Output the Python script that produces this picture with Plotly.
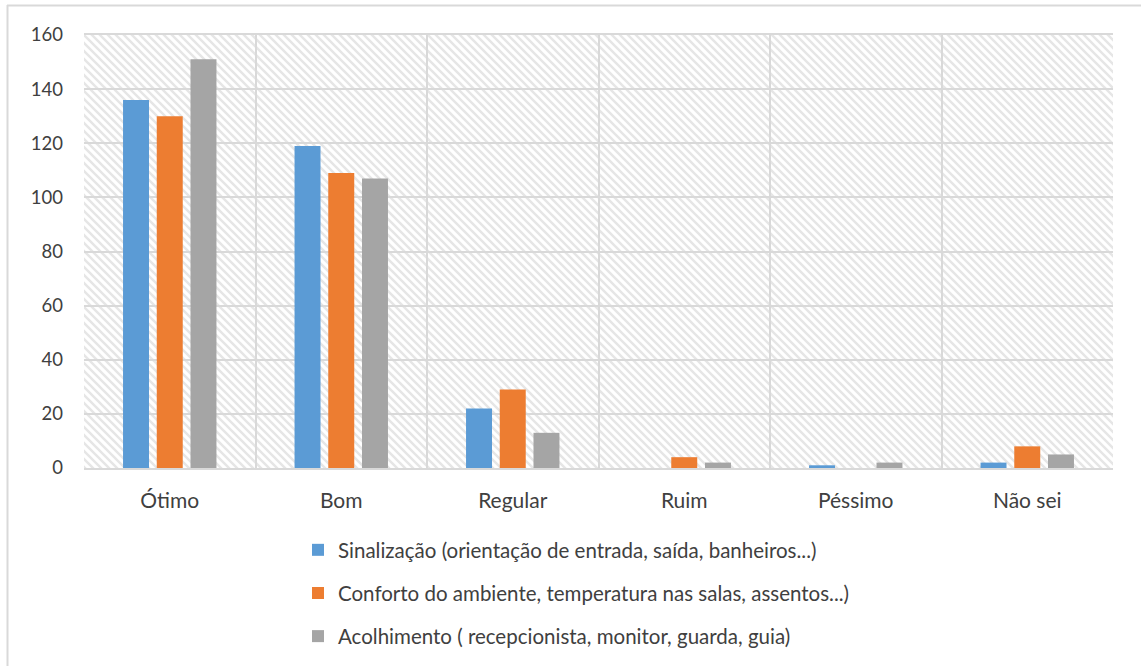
import base64
import plotly.graph_objects as go

# Survey answers per rating category
categories = ["Ótimo", "Bom", "Regular", "Ruim", "Péssimo", "Não sei"]
sinalizacao = [136, 119, 22, 0, 1, 2]
conforto = [130, 109, 29, 4, 0, 8]
acolhimento = [151, 107, 13, 2, 2, 5]

series_names = [
    "Sinalização (orientação de entrada, saída, banheiros...)",
    "Conforto do ambiente, temperatura nas salas, assentos...)",
    "Acolhimento ( recepcionista, monitor, guarda, guia)",
]
series_values = [sinalizacao, conforto, acolhimento]
series_colors = ["#5B9BD5", "#ED7D31", "#A5A5A5"]
y_ticks = [0, 20, 40, 60, 80, 100, 120, 140, 160]

W, H = 1141, 666
ML, MR, MT, MB = 84, 28, 35, 198
PW, PH = W - ML - MR, H - MT - MB

FONT = "Lato, 'Open Sans', sans-serif"
TEXT = "#404040"
GRID = "#d9d9d9"

# Diagonal hatch used as the plot-area background
svg = f"""<svg xmlns='http://www.w3.org/2000/svg' width='{PW}' height='{PH}'>
<defs><pattern id='h' width='8' height='8' patternUnits='userSpaceOnUse'>
<rect width='8' height='8' fill='white'/>
<path d='M-2,-2 L10,10 M-2,6 L2,10 M6,-2 L10,2' stroke='#e6e6e6' stroke-width='2.4'/>
</pattern></defs>
<rect width='{PW}' height='{PH}' fill='url(#h)'/></svg>"""
bg_src = "data:image/svg+xml;base64," + base64.b64encode(svg.encode()).decode()

fig = go.Figure()
for i, (name, vals, col) in enumerate(zip(series_names, series_values, series_colors)):
    fig.add_trace(go.Bar(
        x=categories, y=vals, name=name, marker_color=col,
        marker_line_width=0, legendgroup=f"g{i}",
    ))


def px_x(p):
    return (p - ML) / PW


def px_y(p):
    return (H - MB - p) / PH


fig.update_layout(
    width=W, height=H,
    margin=dict(l=ML, r=MR, t=MT, b=MB, autoexpand=False),
    paper_bgcolor="white",
    plot_bgcolor="rgba(0,0,0,0)",
    barmode="group",
    bargap=0.41,
    bargroupgap=0.23,
    font=dict(family=FONT, color=TEXT, size=18),
    images=[dict(
        source=bg_src, xref="paper", yref="paper", x=0, y=1,
        sizex=1, sizey=1, xanchor="left", yanchor="top",
        sizing="stretch", layer="below",
    )],
    xaxis=dict(
        type="category", tickson="boundaries", showgrid=True,
        gridcolor=GRID, gridwidth=2, showline=True, linecolor=GRID,
        linewidth=2, mirror=True, ticks="", ticklabelstandoff=13,
        tickfont=dict(size=21, color=TEXT), zeroline=False,
    ),
    yaxis=dict(
        range=[0, 160], tickvals=y_ticks, showgrid=True, gridcolor=GRID,
        gridwidth=2, zeroline=False, showline=False, ticks="",
        ticklabelstandoff=20, tickfont=dict(size=18.5, color=TEXT),
    ),
    showlegend=True,
    legend=dict(
        orientation="v", x=px_x(298), y=px_y(530), xanchor="left",
        yanchor="top", traceorder="grouped", tracegroupgap=13.5,
        font=dict(size=20.5, color=TEXT), bgcolor="rgba(0,0,0,0)",
        itemwidth=30,
    ),
    shapes=[
        dict(type="line", xref="paper", yref="paper",
             x0=px_x(7), x1=px_x(W + 5), y0=px_y(5.5), y1=px_y(5.5),
             line=dict(color=GRID, width=2)),
        dict(type="line", xref="paper", yref="paper",
             x0=px_x(7.5), x1=px_x(7.5), y0=px_y(5), y1=px_y(H + 5),
             line=dict(color=GRID, width=2)),
    ],
)

fig.write_html("out.html")
